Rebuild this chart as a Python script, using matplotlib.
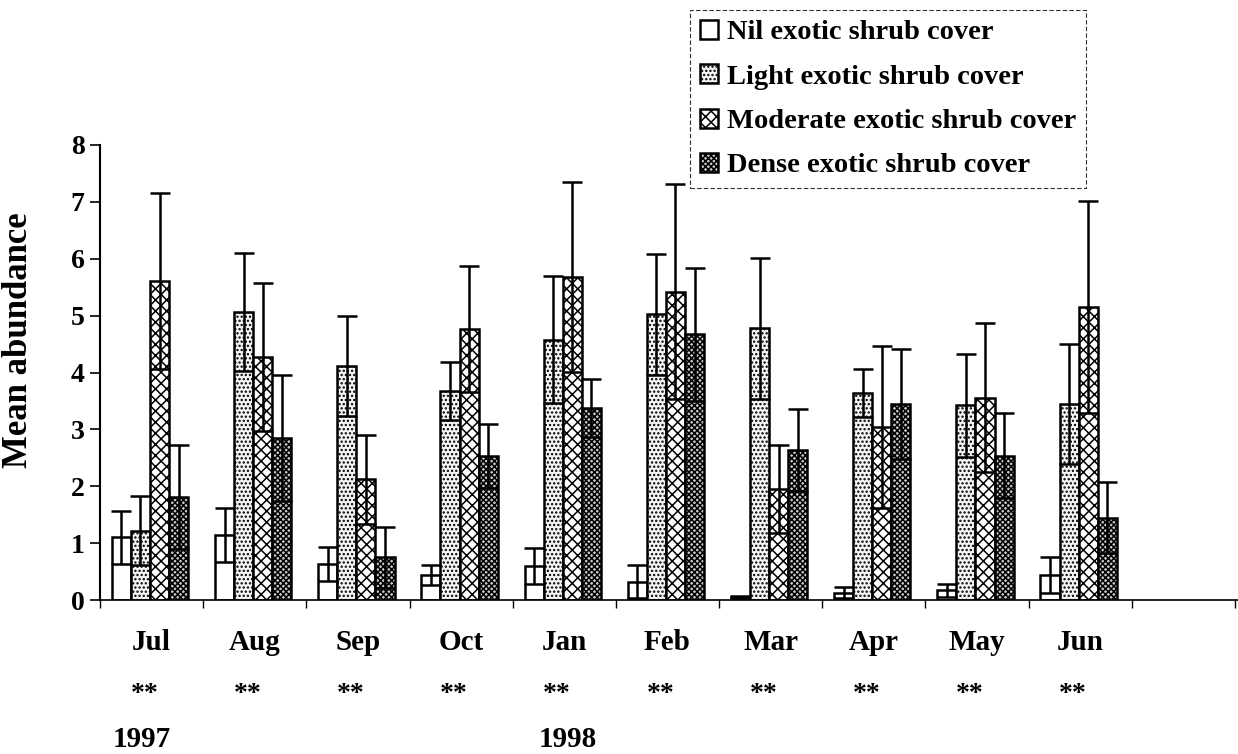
import numpy as np
import matplotlib
matplotlib.use("Agg")
import matplotlib.pyplot as plt

plt.rcParams["font.family"] = ["Liberation Serif", "DejaVu Serif"]
plt.rcParams["font.weight"] = "bold"
plt.rcParams["hatch.linewidth"] = 1.1

months = ["Jul", "Aug", "Sep", "Oct", "Jan", "Feb", "Mar", "Apr", "May", "Jun"]
signif = ["**"] * 10
series = ["Nil exotic shrub cover", "Light exotic shrub cover",
          "Moderate exotic shrub cover", "Dense exotic shrub cover"]

nil = [1.10, 1.14, 0.63, 0.44, 0.60, 0.32, 0.05, 0.13, 0.17, 0.44]
nil_err = [0.46, 0.47, 0.30, 0.17, 0.32, 0.29, 0.02, 0.09, 0.12, 0.31]
light = [1.22, 5.06, 4.12, 3.67, 4.58, 5.02, 4.78, 3.64, 3.42, 3.45]
light_err = [0.60, 1.04, 0.88, 0.51, 1.12, 1.06, 1.24, 0.42, 0.91, 1.05]
moderate = [5.61, 4.27, 2.12, 4.77, 5.68, 5.42, 1.95, 3.04, 3.56, 5.15]
moderate_err = [1.55, 1.30, 0.78, 1.11, 1.67, 1.89, 0.78, 1.43, 1.31, 1.87]
dense = [1.81, 2.85, 0.75, 2.53, 3.38, 4.67, 2.64, 3.45, 2.54, 1.45]
dense_err = [0.92, 1.11, 0.54, 0.56, 0.51, 1.17, 0.72, 0.97, 0.75, 0.62]

values = [nil, light, moderate, dense]
errors = [nil_err, light_err, moderate_err, dense_err]
hatches = [None, "....", "xxx", "xxxxxx"]
fcolors = ["white", "#f4f4f4", "white", "#c8c8c8"]

fig = plt.figure(figsize=(12.38, 7.54), dpi=100)
ax = fig.add_axes([100 / 1238, 154 / 754, 1 - 100 / 1238, 455 / 754])

x = np.arange(len(months))
width = 0.185
for j in range(4):
    pos = x - 0.015 + (j - 1.5) * width
    ax.bar(pos, values[j], width, color=fcolors[j], edgecolor="black",
           linewidth=1.8, hatch=hatches[j], label=series[j], zorder=2)
    ax.errorbar(pos, values[j], yerr=errors[j], fmt="none", ecolor="black",
                elinewidth=1.8, capsize=7, capthick=1.8, zorder=3)

ax.set_xlim(-0.5, 10.53)
ax.set_ylim(0, 8)
ax.set_yticks(range(9))
ax.tick_params(axis="y", labelsize=20, length=7, width=1.2, direction="out", pad=4)
ax.set_xticks(np.arange(-0.5, 10.6, 1.0))
ax.set_xticklabels([])
ax.tick_params(axis="x", length=6, width=1.0, direction="out")
for s in ["top", "right"]:
    ax.spines[s].set_visible(False)
ax.spines["left"].set_linewidth(1.5)
ax.spines["bottom"].set_linewidth(1.2)

for i, m in enumerate(months):
    ax.text(x[i], -0.74, m, ha="center", va="center", fontsize=21,
            fontweight="bold", clip_on=False)
    ax.text(x[i] - 0.07, -1.67, signif[i], ha="center", va="center", fontsize=20,
            fontweight="bold", clip_on=False)
ax.text(-0.38, -2.45, "1997", ha="left", va="center", fontsize=21,
        fontweight="bold", clip_on=False)
ax.text(3.75, -2.45, "1998", ha="left", va="center", fontsize=21,
        fontweight="bold", clip_on=False)

ax.set_ylabel("Mean abundance", fontsize=25, fontweight="bold")
ax.yaxis.set_label_coords(-0.057, 0.57)

leg = fig.legend(loc="upper left", bbox_to_anchor=(690 / 1238, 1 - 10 / 754),
                 fontsize=20.5, frameon=True, fancybox=False, handlelength=0.65,
                 handleheight=0.65, handletextpad=0.3, borderpad=0.35,
                 labelspacing=0.66, borderaxespad=0)
leg.get_frame().set_edgecolor("black")
leg.get_frame().set_linestyle((0, (4, 2)))
leg.get_frame().set_linewidth(0.8)

fig.savefig("out.png", dpi=100)
